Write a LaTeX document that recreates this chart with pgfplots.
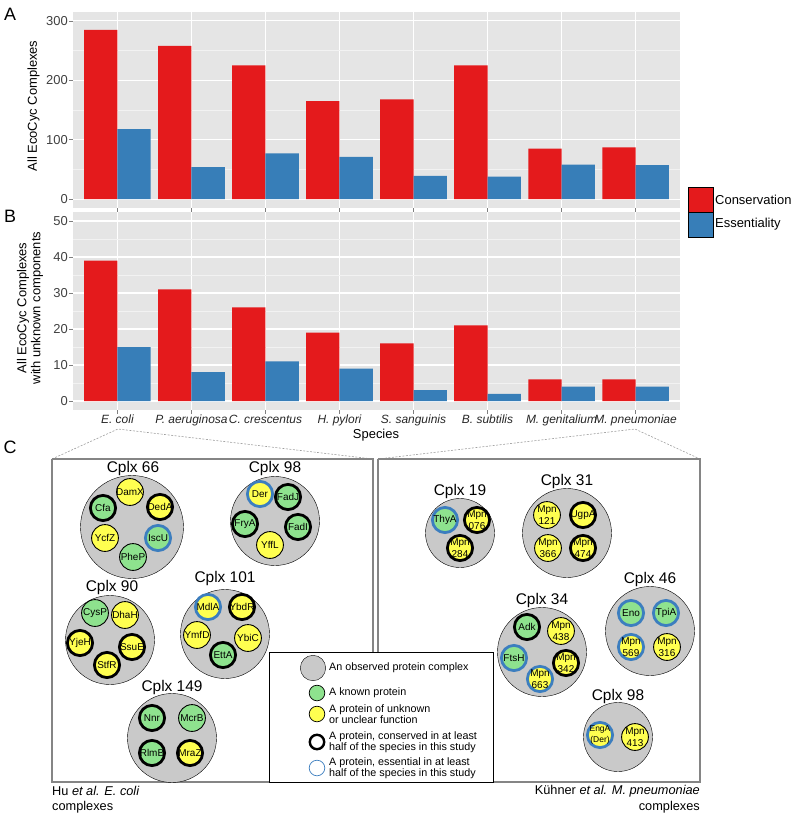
\documentclass[border=0pt]{standalone}
\usepackage{fontspec}
\setmainfont{Liberation Sans}
\usepackage{pgfplots}
\pgfplotsset{compat=1.18}

\definecolor{consred}{HTML}{E41A1C}
\definecolor{essblue}{HTML}{377EB8}
\definecolor{panelbg}{HTML}{E5E5E5}
\definecolor{minorgrid}{HTML}{F2F2F2}
\definecolor{tickgray}{HTML}{7F7F7F}
\definecolor{cplxgray}{HTML}{C9C9C9}
\definecolor{known}{HTML}{8EE28E}
\definecolor{unknown}{HTML}{FFFF50}
\definecolor{essring}{HTML}{3C7EBF}
\definecolor{framegray}{HTML}{858585}

\newcommand\fsz[1]{\fontsize{#1}{#1}\selectfont}
\DeclareRobustCommand\two[2]{\shortstack{#1\\[-0.5pt]#2}}

\pgfplotsset{
  ggbar/.style={
    scale only axis, width=607bp, anchor=north west,
    xmin=-0.6, xmax=7.6, xtick={0,...,7},
    axis background/.style={fill=panelbg},
    axis line style={draw=none},
    xmajorgrids, ymajorgrids, yminorgrids,
    major grid style={white, line width=1.1bp},
    minor grid style={minorgrid, line width=0.6bp},
    tick align=outside, major tick length=4bp, minor tick length=0pt,
    xtick pos=left, ytick pos=left,
    tick style={tickgray, line width=0.8bp},
    tick label style={font=\fsz{13}, text=black!75},
    yticklabel style={inner sep=1bp},
    xticklabel style={inner sep=1bp},
    /pgf/number format/assume math mode=true,
  },
  prot/.style={only marks, mark=*, nodes near coords, point meta=explicit symbolic,
    every node near coord/.append style={anchor=center, font=\fsz{10}, text=black, inner sep=0pt}},
  thin/.style={prot, mark size=13.4bp, mark options={draw=black, line width=0.9bp, fill=#1}},
  consv/.style={prot, mark size=12.6bp, mark options={draw=black, line width=2.8bp, fill=#1}},
  essn/.style={prot, mark size=12.6bp, mark options={draw=essring, line width=2.8bp, fill=#1}},
}

\begin{document}
\begin{tikzpicture}
\path[use as bounding box] (0,0) rectangle (793bp,-816bp);

% overlay in pixel units: labels, legend and panel C
\begin{axis}[at={(0,0)}, anchor=north west, x=1bp, y=1bp,
    xmin=0, xmax=793, ymin=0, ymax=816, y dir=reverse,
    hide axis, clip=false]

  % panel letters and axis titles
  \node[font=\fsz{18}] at (axis cs:10,14) {A};
  \node[font=\fsz{18}] at (axis cs:10,216) {B};
  \node[font=\fsz{18}] at (axis cs:10,447) {C};
  \node[font=\fsz{13}, rotate=90] at (axis cs:33.5,106) {All EcoCyc Complexes};
  \node[font=\fontsize{13}{14}\selectfont, rotate=90, align=center] at (axis cs:30,308)
    {All EcoCyc Complexes\\with unknown components};
  \node[font=\fsz{13}] at (axis cs:376,435) {Species};

  % legend of A and B
  \addplot[only marks, mark=square*, mark size=12.5bp, mark options={draw=none, fill=consred}]
    coordinates {(700.5,199.5)};
  \addplot[only marks, mark=square*, mark size=12.5bp, mark options={draw=none, fill=essblue}]
    coordinates {(700.5,224.5)};
  \node[font=\fsz{13}, anchor=west, inner sep=0pt] at (axis cs:715,199.5) {Conservation};
  \node[font=\fsz{13}, anchor=west, inner sep=0pt] at (axis cs:715,224.5) {Essentiality};

  % frames of panel C
  \addplot[framegray!80, line width=0.6bp, dash pattern=on 2bp off 1.5bp]
    coordinates {(52,459) (118,429) (373,459)};
  \addplot[framegray!80, line width=0.6bp, dash pattern=on 2bp off 1.5bp]
    coordinates {(378,459) (635,429) (700,459)};
  \addplot[framegray, line width=1.2bp]
    coordinates {(52,459) (373,459) (373,782) (52,782) (52,459)};
  \addplot[framegray, line width=1.2bp]
    coordinates {(378,459) (700,459) (700,782) (378,782) (378,459)};

  % complexes
  \addplot[only marks, mark=*, mark size=51.5bp, mark options={draw=none, fill=cplxgray}]
    coordinates {(132,527)};
  \addplot[only marks, mark=*, mark size=44.5bp, mark options={draw=none, fill=cplxgray}]
    coordinates {(275,521) (225,634) (110,640) (172,738) (567,533) (650,631) (542,652)};
  \addplot[only marks, mark=*, mark size=34.5bp, mark options={draw=none, fill=cplxgray}]
    coordinates {(460,533) (618,737)};

  \addplot[thin=known] coordinates {(133,557)[PheP] (95,613)[CysP] (192,718)[McrB]};
  \addplot[consv=known] coordinates {
    (103,508)[Cfa] (288,497)[FadJ] (245,524)[FryA] (298,527)[FadI]
    (223,655)[EttA] (152,718)[Nnr] (152,753)[RlmB] (527,627)[Adk]};
  \addplot[essn=known] coordinates {
    (158,538)[IscU] (445,520)[ThyA] (631,613)[Eno] (666,613)[TpiA] (514,658)[FtsH]};
  \addplot[thin=unknown] coordinates {
    (130,492)[DamX] (105,538)[YcfZ] (270,545)[YffL] (197,635)[YmfD] (248,638)[YbiC]
    (125,615)[DhaH] (547,515)[{\two{Mpn}{121}}] (548,548)[{\two{Mpn}{366}}]
    (667,647)[{\two{Mpn}{316}}] (561,631)[{\two{Mpn}{438}}] (635,737)[{\two{Mpn}{413}}]};
  \addplot[consv=unknown] coordinates {
    (160,507)[DedA] (242,607)[YbdR] (80,643)[YjeH] (132,647)[SsuE] (107,665)[StfR]
    (190,753)[MraZ] (477,520)[{\two{Mpn}{076}}] (460,548)[{\two{Mpn}{284}}]
    (583,515)[UgpA] (583,548)[{\two{Mpn}{474}}] (566,663)[{\two{Mpn}{342}}]};
  \addplot[essn=unknown] coordinates {
    (260,494)[Der] (208,607)[MdlA] (631,647)[{\two{Mpn}{569}}] (540,679)[{\two{Mpn}{663}}]
    (600,735)[{\fsz{8.5}\two{EngA}{(Der)}}]};

  % complex names
  \node[font=\fsz{15.5}] at (axis cs:133,468) {Cplx 66};
  \node[font=\fsz{15.5}] at (axis cs:275,468) {Cplx 98};
  \node[font=\fsz{15.5}] at (axis cs:225,578) {Cplx 101};
  \node[font=\fsz{15.5}] at (axis cs:112,587) {Cplx 90};
  \node[font=\fsz{15.5}] at (axis cs:172,687) {Cplx 149};
  \node[font=\fsz{15.5}] at (axis cs:460,491) {Cplx 19};
  \node[font=\fsz{15.5}] at (axis cs:567,481) {Cplx 31};
  \node[font=\fsz{15.5}] at (axis cs:650,579) {Cplx 46};
  \node[font=\fsz{15.5}] at (axis cs:542,600) {Cplx 34};
  \node[font=\fsz{15.5}] at (axis cs:618,696) {Cplx 98};

  % key of panel C
  \addplot[draw=black, line width=0.8bp, fill=white]
    coordinates {(269,652) (493,652) (493,782) (269,782) (269,652)};
  \addplot[only marks, mark=*, mark size=12.7bp, mark options={draw=none, fill=cplxgray}]
    coordinates {(313,668)};
  \addplot[only marks, mark=*, mark size=7.8bp, mark options={draw=black, line width=0.7bp, fill=known}]
    coordinates {(317,693)};
  \addplot[only marks, mark=*, mark size=7.8bp, mark options={draw=black, line width=0.7bp, fill=unknown}]
    coordinates {(317,714)};
  \addplot[only marks, mark=*, mark size=7.2bp, mark options={draw=black, line width=2.4bp, fill=white}]
    coordinates {(317,742)};
  \addplot[only marks, mark=*, mark size=7.8bp, mark options={draw=essring, line width=0.7bp, fill=white}]
    coordinates {(317,768)};
  \node[font=\fsz{10.8}, anchor=west, inner sep=0pt] at (axis cs:329,668) {An observed protein complex};
  \node[font=\fsz{10.8}, anchor=west, inner sep=0pt] at (axis cs:329,693) {A known protein};
  \node[font=\fontsize{10.8}{10}\selectfont, anchor=west, inner sep=0pt, align=left] at (axis cs:329,714)
    {A protein of unknown\\or unclear function};
  \node[font=\fontsize{10.8}{10}\selectfont, anchor=west, inner sep=0pt, align=left] at (axis cs:329,742)
    {A protein, conserved in at least\\half of the species in this study};
  \node[font=\fontsize{10.8}{10}\selectfont, anchor=west, inner sep=0pt, align=left] at (axis cs:329,768)
    {A protein, essential in at least\\half of the species in this study};

  % captions
  \node[font=\fsz{12.8}, anchor=west, inner sep=0pt] at (axis cs:52,791) {Hu \textit{et al. E. coli}};
  \node[font=\fsz{12.8}, anchor=west, inner sep=0pt] at (axis cs:52,807) {complexes};
  \node[font=\fsz{12.8}, anchor=east, inner sep=0pt] at (axis cs:700,791) {Kühner \textit{et al. M. pneumoniae}};
  \node[font=\fsz{12.8}, anchor=east, inner sep=0pt] at (axis cs:700,807) {complexes};
\end{axis}

% panel A
\begin{axis}[ggbar, at={(73bp,-12bp)}, height=196bp,
    ymin=-15, ymax=315, ytick={0,100,200,300}, minor ytick={50,150,250},
    xticklabels={}]
  \addplot[ybar, bar width=0.45, bar shift=-0.225, fill=consred, draw=none]
    coordinates {(0,285) (1,258) (2,225) (3,165) (4,168) (5,225) (6,85) (7,87)};
  \addplot[ybar, bar width=0.45, bar shift=0.225, fill=essblue, draw=none]
    coordinates {(0,118) (1,54) (2,77) (3,71) (4,39) (5,38) (6,58) (7,57)};
\end{axis}

% panel B
\begin{axis}[ggbar, at={(73bp,-212bp)}, height=198bp,
    ymin=-2.5, ymax=52.5, ytick={0,10,20,30,40,50}, minor ytick={5,15,25,35,45},
    xticklabel style={font=\fsz{12}\itshape, text=black!85},
    xticklabels={E. coli, P. aeruginosa, C. crescentus, H. pylori,
      S. sanguinis, B. subtilis, M. genitalium, M. pneumoniae}]
  \addplot[ybar, bar width=0.45, bar shift=-0.225, fill=consred, draw=none]
    coordinates {(0,39) (1,31) (2,26) (3,19) (4,16) (5,21) (6,6) (7,6)};
  \addplot[ybar, bar width=0.45, bar shift=0.225, fill=essblue, draw=none]
    coordinates {(0,15) (1,8) (2,11) (3,9) (4,3) (5,2) (6,4) (7,4)};
\end{axis}
\end{tikzpicture}
\end{document}
